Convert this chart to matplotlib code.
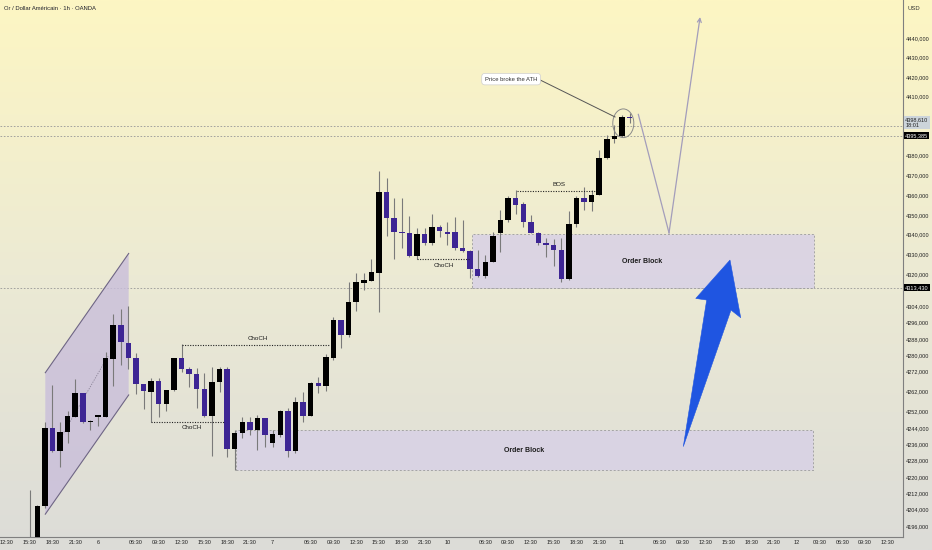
import matplotlib.pyplot as plt
import numpy as np
import matplotlib.transforms as mtransforms
from matplotlib.patches import Rectangle, Polygon, Ellipse
from matplotlib.colors import LinearSegmentedColormap
from matplotlib.ticker import FixedLocator, NullLocator, FuncFormatter

plt.rcParams['font.family'] = ['Liberation Sans Narrow', 'Liberation Sans', 'DejaVu Sans']

# hourly candles (bar index = position on the time axis)
opens = [4189, 4188, 4205.8, 4243.8, 4232.6, 4242.1, 4249.5, 4261.0, 4246.8, 4249.5,
         4249.5, 4278.0, 4294.9, 4286.0, 4278.6, 4265.5, 4261.8, 4267.1, 4255.7, 4262.6,
         4278.3, 4273.0, 4270.6, 4263.1, 4250.0, 4266.8, 4273.0, 4233.6, 4241.3, 4247.0,
         4242.9, 4248.7, 4236.4, 4240.5, 4252.3, 4232.6, 4256.9, 4250.0, 4266.3, 4264.6,
         4278.6, 4297.3, 4289.8, 4306.2, 4315.7, 4316.8, 4321.0, 4361.4, 4348.3, 4341.6,
         4341.1, 4329.3, 4340.3, 4335.7, 4344.1, 4341.6, 4341.6, 4333.1, 4331.9, 4322.8,
         4319.5, 4326.5, 4340.8, 4347.4, 4358.4, 4355.3, 4346.6, 4341.1, 4335.7, 4334.8,
         4332.3, 4317.7, 4345.4, 4358.7, 4356.6, 4360.0, 4378.6, 4388.4, 4390.1, 4399.7]
highs = [4213.6, 4206.3, 4247.0, 4265.1, 4247.0, 4252.3, 4267.9, 4261.2, 4247.9, 4250.3,
         4281.6, 4300.3, 4302.7, 4304.3, 4280.8, 4265.8, 4268.7, 4268.7, 4262.8, 4278.5,
         4285.2, 4274.2, 4273.4, 4270.9, 4273.9, 4273.9, 4274.2, 4242.9, 4249.5, 4249.5,
         4250.3, 4248.9, 4242.9, 4252.8, 4253.6, 4259.3, 4261.8, 4266.5, 4269.2, 4280.4,
         4299.0, 4297.5, 4316.5, 4321.0, 4320.6, 4327.6, 4372.2, 4368.6, 4358.4, 4358.4,
         4349.6, 4343.3, 4343.3, 4350.3, 4345.0, 4346.6, 4349.1, 4347.4, 4332.3, 4332.3,
         4329.8, 4341.6, 4352.4, 4359.5, 4362.6, 4356.6, 4349.9, 4341.6, 4338.2, 4337.7,
         4338.2, 4352.1, 4359.5, 4364.2, 4362.6, 4382.8, 4390.4, 4395.5, 4400.6, 4401.7]
lows = [4180, 4185, 4204.8, 4232.0, 4225.0, 4236.7, 4249.3, 4246.2, 4242.9, 4245.0,
        4249.3, 4264.6, 4275.0, 4273.0, 4260.7, 4253.1, 4246.7, 4249.5, 4252.4, 4262.4,
        4271.4, 4264.3, 4253.9, 4249.5, 4230.3, 4261.8, 4229.5, 4223.4, 4238.9, 4240.5,
        4233.1, 4234.7, 4234.7, 4239.7, 4229.8, 4231.8, 4247.0, 4249.8, 4261.0, 4262.2,
        4277.5, 4283.2, 4289.0, 4302.0, 4312.3, 4316.6, 4301.2, 4339.5, 4327.6, 4333.1,
        4329.0, 4327.8, 4334.8, 4334.8, 4339.0, 4334.8, 4332.3, 4331.5, 4318.2, 4319.0,
        4318.5, 4326.3, 4331.4, 4346.6, 4350.5, 4344.1, 4340.8, 4334.8, 4329.0, 4324.3,
        4316.5, 4317.3, 4343.8, 4352.4, 4352.1, 4359.8, 4378.4, 4386.2, 4389.6, 4396.6]
closes = [4185, 4205.8, 4243.8, 4232.6, 4242.1, 4250.0, 4261.0, 4246.7, 4247.0, 4250.0,
          4278.3, 4294.9, 4286.2, 4278.6, 4265.5, 4262.2, 4267.1, 4255.7, 4262.6, 4278.3,
          4273.0, 4270.6, 4263.0, 4250.0, 4266.8, 4273.0, 4233.6, 4241.3, 4247.0, 4242.9,
          4248.7, 4240.5, 4240.8, 4252.3, 4232.6, 4256.9, 4250.0, 4266.3, 4264.6, 4278.8,
          4297.3, 4289.8, 4306.2, 4316.2, 4317.3, 4321.1, 4361.4, 4348.3, 4341.6, 4340.8,
          4329.3, 4340.3, 4335.7, 4344.1, 4341.9, 4340.3, 4333.1, 4331.8, 4322.8, 4319.5,
          4326.5, 4339.4, 4347.4, 4358.4, 4355.0, 4346.6, 4341.1, 4335.7, 4334.8, 4332.3,
          4317.7, 4345.4, 4358.7, 4356.6, 4360.0, 4378.6, 4388.4, 4390.1, 4399.7, 4398.9]

# price axis ticks (log scale, like the TradingView screen)
ytick_vals = [4440, 4430, 4420, 4410, 4380, 4370, 4360, 4350, 4340, 4330, 4320,
              4304, 4296, 4288, 4280, 4272, 4262, 4252, 4244, 4236, 4228, 4220,
              4212, 4204, 4196]

# time axis labels at bar positions
xtick_pos = [-3, 0, 3, 6, 9, 14, 17, 20, 23, 26, 29, 32, 37, 40, 43, 46, 49, 52, 55,
             60, 63, 66, 69, 72, 75, 78, 83, 86, 89, 92, 95, 98, 101, 104, 107, 110, 113]
xtick_lab = ['12:30', '15:30', '18:30', '21:30', '6', '06:30', '09:30', '12:30', '15:30',
             '18:30', '21:30', '7', '06:30', '09:30', '12:30', '15:30', '18:30', '21:30',
             '10', '06:30', '09:30', '12:30', '15:30', '18:30', '21:30', '11', '06:30',
             '09:30', '12:30', '15:30', '18:30', '21:30', '12', '03:30', '06:30', '09:30',
             '12:30']

# drawings
level_prices = [4395.1, 4390.0, 4313.43]
channel_x = [2.06, 13.04]
channel_top = [4271.2, 4330.6]
channel_bot = [4201.8, 4260.2]
channel_dots_x = [4.17, 10.32]
channel_dots_y = [4239.6, 4279.4]

struct_labels = ['ChoCH', 'ChoCH', 'ChoCH', 'BOS']
struct_level = [4284.9, 4247.0, 4327.6, 4362.2]
struct_x0 = [20.0, 16.0, 51.05, 64.13]
struct_x1 = [39.6, 25.6, 57.9, 74.54]
struct_tx = [30.0, 21.3, 54.6, 69.7]
struct_ty = [4288.0, 4244.0, 4324.8, 4365.1]

ob_x0 = [27.13, 58.21]
ob_x1 = [103.15, 103.3]
ob_lo = [4223.4, 4313.3]
ob_hi = [4242.9, 4340.6]
ob_tx = [65.1, 80.6]
ob_ty = [4233.1, 4326.8]

arrow_x = [86.07, 89.15, 87.71, 92.22, 93.63, 92.35]
arrow_y = [4234.8, 4307.3, 4308.1, 4327.3, 4298.5, 4302.3]

path_x = [80.15, 84.19, 88.28]
path_y = [4400.9, 4340.9, 4450.8]

fig = plt.figure(figsize=(9.32, 5.5), dpi=100)

# background gradient
bg = fig.add_axes([0, 0, 1, 1], zorder=0)
cmap = LinearSegmentedColormap.from_list('bg', ['#dcdcd8', '#ecead4', '#fdf6c3'])
bg.imshow(np.linspace(0, 1, 256).reshape(-1, 1), cmap=cmap, aspect='auto',
          origin='lower', extent=[0, 1, 0, 1])
bg.axis('off')

ax = fig.add_axes([0, 13 / 550, 903 / 932, 537 / 550], zorder=1)
ax.patch.set_alpha(0)
ax.set_yscale('log')
ax.set_xlim(-3.904, 115.0)
ax.set_ylim(4190.7, 4459.6)

# horizontal price lines
for lv in level_prices:
    ax.axhline(lv, color='#979797', lw=0.6, ls=(0, (2, 2)), zorder=1)

# parallel channel
ax.add_patch(Polygon([(channel_x[0], channel_top[0]), (channel_x[1], channel_top[1]),
                      (channel_x[1], channel_bot[1]), (channel_x[0], channel_bot[0])],
                     closed=True, fc='#c9bedb', ec='none', alpha=0.8, zorder=2))
ax.plot(channel_x, channel_top, color='#6e6584', lw=0.8, zorder=2)
ax.plot(channel_x, channel_bot, color='#6e6584', lw=0.8, zorder=2)
ax.plot(channel_dots_x, channel_dots_y, color='#8a8296', lw=0.6, ls=(0, (1.5, 1.5)), zorder=2)

# order blocks
for i in range(len(ob_x0)):
    ax.add_patch(Rectangle((ob_x0[i], ob_lo[i]), ob_x1[i] - ob_x0[i], ob_hi[i] - ob_lo[i],
                           fc='#d8d1e6', ec='#9a9a9a', lw=0.7, ls=(0, (2, 2)),
                           alpha=0.85, zorder=2))
    ax.text(ob_tx[i], ob_ty[i], 'Order Block', fontsize=5.0, fontweight='bold',
            color='#1c1c1c', ha='center', va='center', zorder=6)

# candles
x = np.arange(len(opens))
o = np.array(opens)
c = np.array(closes)
h = np.array(highs)
l = np.array(lows)
cols = np.where(c >= o, '#000000', '#3d2594')
ax.vlines(x, l, h, color='#7a7a7a', lw=0.8, zorder=3)
ax.bar(x, np.maximum(np.abs(c - o), 0.7), bottom=np.minimum(o, c), width=0.72,
       color=cols, linewidth=0, zorder=4)

# structure lines
for i in range(len(struct_labels)):
    ax.hlines(struct_level[i], struct_x0[i], struct_x1[i], colors='#222222', lw=0.8,
              linestyles=(0, (1, 1.3)), zorder=5)
    ax.text(struct_tx[i], struct_ty[i], struct_labels[i], fontsize=4.5, color='#1c1c1c',
            ha='center', va='center', zorder=6)

# projected path
ax.plot(path_x[:2], path_y[:2], color='#a39dbb', lw=0.9, zorder=5)
ax.annotate('', xy=(path_x[2], path_y[2]), xytext=(path_x[1], path_y[1]),
            arrowprops=dict(arrowstyle='->', color='#a39dbb', lw=0.9,
                            shrinkA=0, shrinkB=0, mutation_scale=7), zorder=5)

# blue arrow
ax.add_patch(Polygon(list(zip(arrow_x, arrow_y)), closed=True, fc='#1f55e1',
                     ec='#1f55e1', lw=0.4, zorder=6))

# circle + callout
ax.add_patch(Ellipse((78.17, 4396.4), 2.77, 14.6, fill=False, ec='#8a8a8a', lw=0.7, zorder=6))
ax.plot([67.0, 77.08], [4418.9, 4399.6], color='#555555', lw=0.7, zorder=6)
ax.text(63.4, 4418.9, 'Price broke the ATH', fontsize=4.2, color='#333333', ha='center',
        va='center', zorder=7,
        bbox=dict(boxstyle='round,pad=0.55', fc='white', ec='#cfcfcf', lw=0.5))

# axes styling
ax.yaxis.tick_right()
ax.yaxis.set_major_locator(FixedLocator(ytick_vals))
ax.yaxis.set_minor_locator(NullLocator())
ax.yaxis.set_major_formatter(FuncFormatter(lambda v, p: f'{v:.3f}'.replace('.', ',')))
ax.tick_params(axis='y', length=0, pad=2.2, labelsize=4.0, labelcolor='#222222')
ax.set_xticks(xtick_pos, xtick_lab)
ax.tick_params(axis='x', length=0, pad=2.5, labelsize=4.0, labelcolor='#222222')
for s in ['left', 'top']:
    ax.spines[s].set_visible(False)
for s in ['right', 'bottom']:
    ax.spines[s].set_color('#7f7f7f')
    ax.spines[s].set_linewidth(0.8)

# price-axis labels
trans = mtransforms.blended_transform_factory(ax.transAxes, ax.transData)
ax.text(1.0025, 4396.8, '4398,610\n18:01', transform=trans, ha='left', va='center',
        fontsize=4.0, color='#222222', linespacing=1.1, clip_on=False, zorder=8,
        bbox=dict(boxstyle='square,pad=0.2', fc='#ccd4da', ec='none'))
ax.text(1.0025, 4390.1, '4395,385', transform=trans, ha='left', va='center', fontsize=4.0,
        color='white', clip_on=False, zorder=8,
        bbox=dict(boxstyle='square,pad=0.2', fc='black', ec='none'))
ax.text(1.0025, 4313.43, '4313,430', transform=trans, ha='left', va='center', fontsize=4.0,
        color='white', clip_on=False, zorder=8,
        bbox=dict(boxstyle='square,pad=0.2', fc='black', ec='none'))

fig.text(907 / 932, 1 - 9 / 550, 'USD', fontsize=4.2, color='#333333', va='center')
fig.text(4 / 932, 1 - 9 / 550, 'Or / Dollar Américain · 1h · OANDA', fontsize=4.2,
         color='#1e1e2a', va='center')

fig.savefig('out.png', dpi=100)
